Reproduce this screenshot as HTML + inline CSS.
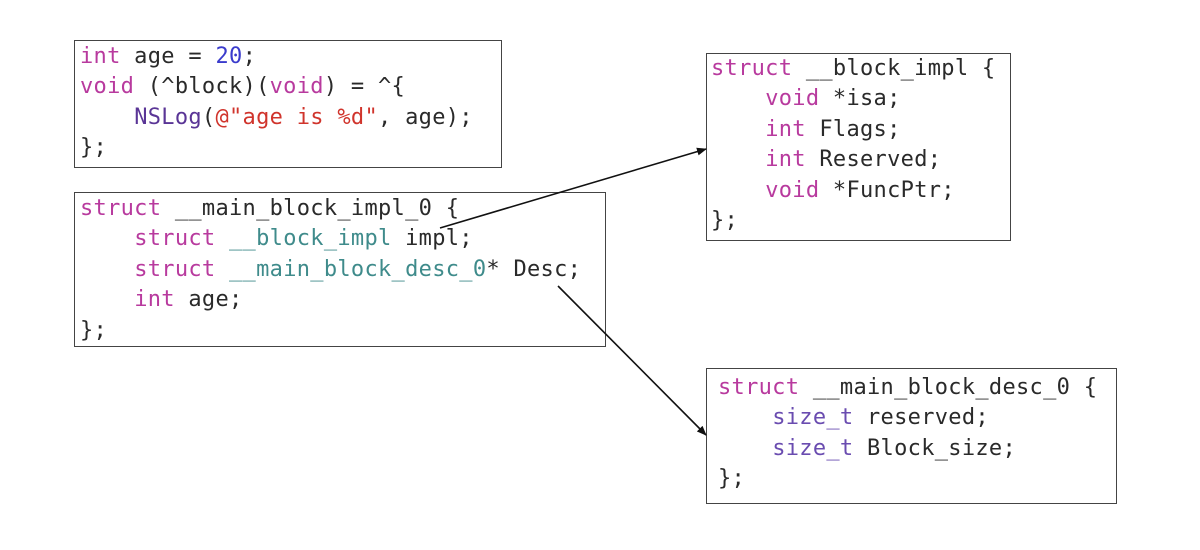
<!DOCTYPE html>
<html><head><meta charset="utf-8"><style>
body{margin:0;width:1200px;height:550px;background:#fff;position:relative;overflow:hidden;font-family:"Liberation Mono","DejaVu Sans Mono",monospace;}
.box{position:absolute;border:1.5px solid #444;box-sizing:border-box;}
.code{position:absolute;font-size:22px;line-height:30.4px;letter-spacing:0.3px;color:#2a2a2a;white-space:pre;margin:0;}
.k{color:#b83a9e}.n{color:#3a3bcc}.f{color:#5a3596}.s{color:#d0342c}.t{color:#3f8b8b}.p{color:#6a4cb0}
</style></head><body>
<div class="box" style="left:74px;top:40px;width:428px;height:128px"></div>
<div class="box" style="left:74px;top:192px;width:532px;height:155px"></div>
<div class="box" style="left:706px;top:53px;width:305px;height:188px"></div>
<div class="box" style="left:706px;top:368px;width:411px;height:136px"></div>

<pre class="code" style="left:80px;top:42px"><span class="k">int</span> age = <span class="n">20</span>;
<span class="k">void</span> (^block)(<span class="k">void</span>) = ^{
    <span class="f">NSLog</span>(<span class="s">@"age is %d"</span>, age);
};</pre>

<pre class="code" style="left:80px;top:194px"><span class="k">struct</span> __main_block_impl_0 {
    <span class="k">struct</span> <span class="t">__block_impl</span> impl;
    <span class="k">struct</span> <span class="t">__main_block_desc_0</span>* Desc;
    <span class="k">int</span> age;
};</pre>

<pre class="code" style="left:711px;top:54px"><span class="k">struct</span> __block_impl {
    <span class="k">void</span> *isa;
    <span class="k">int</span> Flags;
    <span class="k">int</span> Reserved;
    <span class="k">void</span> *FuncPtr;
};</pre>

<pre class="code" style="left:718px;top:373px"><span class="k">struct</span> __main_block_desc_0 {
    <span class="p">size_t</span> reserved;
    <span class="p">size_t</span> Block_size;
};</pre>

<svg width="1200" height="550" style="position:absolute;left:0;top:0">
<defs><marker id="a" markerWidth="10" markerHeight="8" refX="9" refY="4" orient="auto" markerUnits="userSpaceOnUse"><path d="M0,0 L10,4 L0,8 z" fill="#111"/></marker></defs>
<line x1="440" y1="228" x2="706" y2="149" stroke="#111" stroke-width="1.6" marker-end="url(#a)"/>
<line x1="558" y1="286" x2="706" y2="435" stroke="#111" stroke-width="1.6" marker-end="url(#a)"/>
</svg>
</body></html>
